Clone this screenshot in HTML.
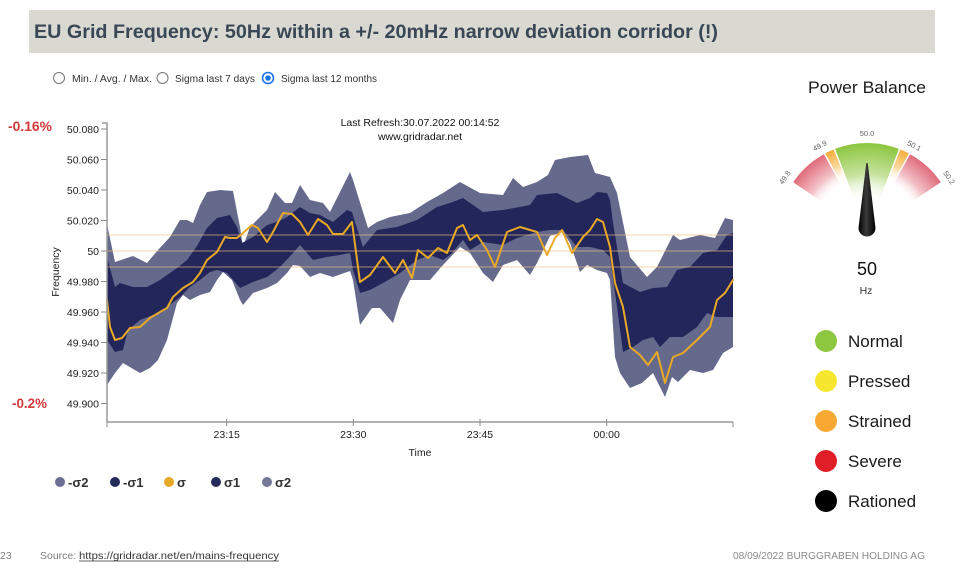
<!DOCTYPE html>
<html><head><meta charset="utf-8"><style>
html,body{margin:0;padding:0;background:#fff;}
svg{display:block;}
text{font-family:"Liberation Sans",Arial,sans-serif;}
</style></head><body>
<svg width="968" height="568" viewBox="0 0 968 568" xmlns="http://www.w3.org/2000/svg">
<defs>
<radialGradient id="gRed" gradientUnits="userSpaceOnUse" cx="867" cy="232" r="89">
<stop offset="0.58" stop-color="#ffffff" stop-opacity="0"/>
<stop offset="0.75" stop-color="#f3c4ca"/>
<stop offset="1" stop-color="#e06a7a"/>
</radialGradient>
<radialGradient id="gGreen" gradientUnits="userSpaceOnUse" cx="867" cy="232" r="89">
<stop offset="0.35" stop-color="#ffffff" stop-opacity="0"/>
<stop offset="0.65" stop-color="#c8e3a0"/>
<stop offset="1" stop-color="#8cc63f"/>
</radialGradient>
<radialGradient id="gOrange" gradientUnits="userSpaceOnUse" cx="867" cy="232" r="89">
<stop offset="0.62" stop-color="#ffffff" stop-opacity="0"/>
<stop offset="0.8" stop-color="#fbd9a0"/>
<stop offset="1" stop-color="#f5ad3c"/>
</radialGradient>
<linearGradient id="gNeedle" x1="0" y1="0" x2="1" y2="0">
<stop offset="0" stop-color="#000"/>
<stop offset="0.45" stop-color="#3a3a3a"/>
<stop offset="1" stop-color="#000"/>
</linearGradient>
</defs>

<!-- Title bar -->
<rect x="29" y="10" width="906" height="43" fill="#d9d9d1"/>
<text x="34" y="38" font-size="19" font-weight="bold" fill="#3a4756" textLength="684" lengthAdjust="spacingAndGlyphs">EU Grid Frequency: 50Hz within a +/- 20mHz narrow deviation corridor (!)</text>

<!-- Radio buttons -->
<circle cx="59" cy="78" r="5.5" fill="#fff" stroke="#767676" stroke-width="1"/>
<text x="72" y="82" font-size="10" fill="#333" textLength="80" lengthAdjust="spacingAndGlyphs">Min. / Avg. / Max.</text>
<circle cx="162.5" cy="78" r="5.5" fill="#fff" stroke="#767676" stroke-width="1"/>
<text x="175" y="82" font-size="10" fill="#333" textLength="80" lengthAdjust="spacingAndGlyphs">Sigma last 7 days</text>
<circle cx="268" cy="78" r="5.5" fill="#fff" stroke="#1a73e8" stroke-width="1.6"/>
<circle cx="268" cy="78" r="2.8" fill="#1a73e8"/>
<text x="281" y="82" font-size="10" fill="#333" textLength="96" lengthAdjust="spacingAndGlyphs">Sigma last 12 months</text>

<!-- Red percentage labels -->
<text x="8" y="131" font-size="13.5" font-weight="bold" fill="#d23a3a" textLength="44" lengthAdjust="spacingAndGlyphs">-0.16%</text>
<text x="12" y="408" font-size="13.5" font-weight="bold" fill="#d23a3a" textLength="35" lengthAdjust="spacingAndGlyphs">-0.2%</text>

<!-- Chart header -->
<text x="420" y="126" font-size="10.5" fill="#111" text-anchor="middle">Last Refresh:30.07.2022 00:14:52</text>
<text x="420" y="140" font-size="10.5" fill="#111" text-anchor="middle">www.gridradar.net</text>

<!-- Outer band (sigma 2) -->
<polygon fill="#656a8d" points="107,224 115,262 133,256 147,263 158,250 170,237 180,220 187,220 193,223 200,205 207,192 220,190 233,191 240,227 243,247 250,227 267,210 275,192 285,203 292,203 300,185 310,200 323,203 330,212 350,172 353,180 368,228 377,222 390,217 410,213 427,202 443,193 460,182 480,193 503,195 513,178 523,187 537,182 548,175 555,160 570,157 588,155 595,173 610,177 617,193 630,257 647,277 657,267 673,235 680,240 700,235 715,238 725,218 733,220 733,347 723,353 713,370 703,373 690,370 678,382 672,377 665,397 653,373 642,383 630,388 620,373 615,357 610,280 607,273 597,270 587,265 580,272 570,243 563,232 550,236 537,263 530,275 517,260 503,265 493,282 483,273 470,253 460,247 443,265 430,280 410,280 400,300 393,323 380,308 372,308 360,325 353,280 350,271 333,277 320,273 310,277 300,266 293,265 287,273 277,283 267,288 253,293 243,305 240,300 232,280 223,272 217,280 210,292 200,295 190,300 183,295 177,303 167,340 158,360 150,368 140,373 123,363 115,373 107,385"/>

<!-- Inner band (sigma 1) -->
<polygon fill="#22265a" points="107,257 115,287 120,283 133,287 147,287 160,280 177,268 187,260 197,246 207,228 217,218 230,215 237,227 242,243 253,237 267,225 277,222 287,217 300,207 310,213 320,215 333,222 347,210 352,212 355,222 363,247 377,230 397,227 417,220 437,207 450,203 463,198 483,212 503,210 530,205 537,195 557,193 577,203 590,198 597,192 607,193 610,200 613,223 623,283 640,292 653,288 667,287 677,270 690,267 703,253 717,250 727,235 733,233 733,317 717,317 707,313 697,327 683,337 670,337 660,347 653,337 643,340 633,347 623,352 617,307 610,257 603,250 590,247 577,247 563,230 550,230 537,232 517,238 503,245 483,242 470,250 463,240 450,255 443,260 430,255 417,260 400,273 383,283 370,290 360,293 353,270 350,253 340,255 327,257 313,260 300,245 293,253 280,267 267,277 253,282 240,288 227,273 217,270 210,272 200,280 190,287 180,297 167,307 153,315 140,320 128,330 123,350 115,352 107,340"/>

<!-- Reference lines -->
<g stroke="#f2c07a" stroke-width="1" opacity="0.65">
<line x1="107" y1="235" x2="733" y2="235"/>
<line x1="107" y1="251" x2="733" y2="251"/>
<line x1="107" y1="267" x2="733" y2="267"/>
</g>

<!-- Sigma line -->
<polyline fill="none" stroke="#e9a825" stroke-width="2" stroke-linejoin="round" stroke-linecap="round" points="107,300 110,327 115,340 122,338 130,328 140,327 150,318 160,312 167,308 173,297 183,288 193,282 200,273 207,260 217,252 225,237 230,238 237,238 243,233 252,225 258,228 267,242 273,232 283,213 292,214 300,222 308,235 318,219 327,225 333,234 343,234 352,222 360,282 370,275 383,257 395,273 403,260 412,278 418,250 428,258 438,248 447,253 457,228 463,225 470,240 477,235 487,250 495,267 507,232 520,227 537,232 547,255 555,238 562,230 572,253 583,237 590,230 597,219 603,222 610,247 615,283 623,307 630,347 640,355 648,365 657,352 665,383 673,357 683,353 697,340 710,327 717,300 725,293 733,280"/>

<!-- Y axis -->
<g stroke="#9a9a9a" stroke-width="1.5" fill="none">
<polyline points="102,123 107,123 107,422"/>
<line x1="107" y1="422" x2="733" y2="422"/>
</g>
<g stroke="#8a8a8a" stroke-width="1">
<line x1="101" y1="129" x2="107" y2="129"/>
<line x1="101" y1="159.5" x2="107" y2="159.5"/>
<line x1="101" y1="190" x2="107" y2="190"/>
<line x1="101" y1="220.5" x2="107" y2="220.5"/>
<line x1="101" y1="251" x2="107" y2="251"/>
<line x1="101" y1="281.5" x2="107" y2="281.5"/>
<line x1="101" y1="312" x2="107" y2="312"/>
<line x1="101" y1="342.5" x2="107" y2="342.5"/>
<line x1="101" y1="373" x2="107" y2="373"/>
<line x1="101" y1="403.5" x2="107" y2="403.5"/>
<line x1="107" y1="422" x2="107" y2="427"/>
<line x1="226.7" y1="419" x2="226.7" y2="426"/>
<line x1="353.3" y1="419" x2="353.3" y2="426"/>
<line x1="480" y1="419" x2="480" y2="426"/>
<line x1="606.7" y1="419" x2="606.7" y2="426"/>
<line x1="733" y1="422" x2="733" y2="427"/>
</g>
<g font-size="10.5" fill="#222" text-anchor="end">
<text x="99" y="133">50.080</text>
<text x="99" y="163.5">50.060</text>
<text x="99" y="194">50.040</text>
<text x="99" y="224.5">50.020</text>
<text x="99" y="255">50</text>
<text x="99" y="285.5">49.980</text>
<text x="99" y="316">49.960</text>
<text x="99" y="346.5">49.940</text>
<text x="99" y="377">49.920</text>
<text x="99" y="407.5">49.900</text>
</g>
<g font-size="10.5" fill="#222" text-anchor="middle">
<text x="226.7" y="438">23:15</text>
<text x="353.3" y="438">23:30</text>
<text x="480" y="438">23:45</text>
<text x="606.7" y="438">00:00</text>
<text x="420" y="456">Time</text>
<text x="0" y="0" transform="translate(59,272) rotate(-90)">Frequency</text>
</g>

<!-- Bottom legend -->
<g font-size="13" font-weight="bold" fill="#333">
<circle cx="60" cy="482" r="5" fill="#6b6f91"/><text x="68" y="487">-σ2</text>
<circle cx="115" cy="482" r="5" fill="#252a5c"/><text x="123" y="487">-σ1</text>
<circle cx="169" cy="482" r="5" fill="#e9a825"/><text x="177" y="487">σ</text>
<circle cx="216" cy="482" r="5" fill="#252a5c"/><text x="224" y="487">σ1</text>
<circle cx="267" cy="482" r="5" fill="#737899"/><text x="275" y="487">σ2</text>
</g>

<!-- Footer -->
<text x="0" y="559" font-size="10.5" fill="#7f7f7f">23</text>
<text x="40" y="559" font-size="10.5" fill="#7f7f7f">Source: </text>
<text x="79" y="559" font-size="10.5" fill="#333" textLength="200" lengthAdjust="spacingAndGlyphs">https://gridradar.net/en/mains-frequency</text>
<line x1="79" y1="561" x2="279" y2="561" stroke="#333" stroke-width="0.8"/>
<text x="733" y="559" font-size="10.5" fill="#8a8a8a" textLength="192" lengthAdjust="spacingAndGlyphs">08/09/2022  BURGGRABEN HOLDING AG</text>

<!-- Power Balance gauge -->
<text x="867" y="93" font-size="17" fill="#1a1a1a" text-anchor="middle" textLength="118" lengthAdjust="spacingAndGlyphs">Power Balance</text>
<path d="M867,232 L793.2,182.2 A89,89 0 0 1 823.9,154.2 Z" fill="url(#gRed)"/>
<path d="M867,232 L825.2,153.4 A89,89 0 0 1 833.7,149.5 Z" fill="url(#gOrange)"/>
<path d="M867,232 L835.1,148.9 A89,89 0 0 1 898.9,148.9 Z" fill="url(#gGreen)"/>
<path d="M867,232 L900.3,149.5 A89,89 0 0 1 908.8,153.4 Z" fill="url(#gOrange)"/>
<path d="M867,232 L910.1,154.2 A89,89 0 0 1 940.8,182.2 Z" fill="url(#gRed)"/>
<g font-size="7.5" fill="#666" text-anchor="middle">
<text transform="translate(787,179) rotate(-56)">49.8</text>
<text transform="translate(821,148) rotate(-28)">49.9</text>
<text x="867" y="136">50.0</text>
<text transform="translate(913,148) rotate(28)">50.1</text>
<text transform="translate(947,179) rotate(56)">50.2</text>
</g>
<path d="M866.3,163 L867.7,163 L875.5,228 A8.5,8.5 0 0 1 858.5,228 Z" fill="url(#gNeedle)"/>
<text x="867" y="275" font-size="18" fill="#111" text-anchor="middle">50</text>
<text x="866" y="294" font-size="10.5" fill="#333" text-anchor="middle">Hz</text>

<!-- Status legend -->
<g font-size="17" fill="#1a1a1a">
<circle cx="826" cy="341" r="11" fill="#8dc63f"/><text x="848" y="347">Normal</text>
<circle cx="826" cy="381" r="11" fill="#f7e62e"/><text x="848" y="387">Pressed</text>
<circle cx="826" cy="421" r="11" fill="#f7a934"/><text x="848" y="427">Strained</text>
<circle cx="826" cy="461" r="11" fill="#e01e27"/><text x="848" y="467">Severe</text>
<circle cx="826" cy="501" r="11" fill="#000"/><text x="848" y="507">Rationed</text>
</g>
</svg>
</body></html>
